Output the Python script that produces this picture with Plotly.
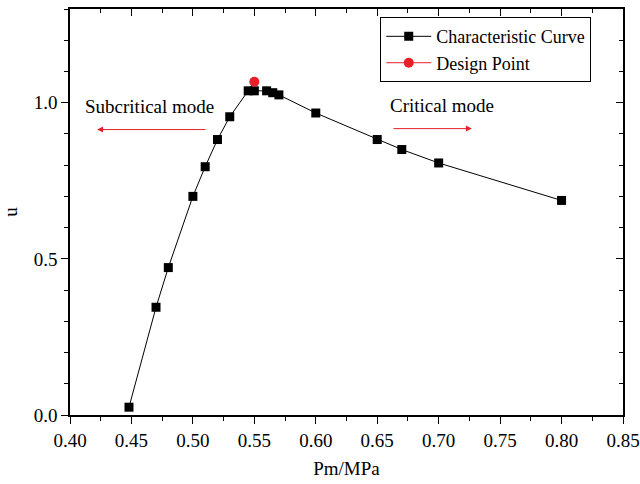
import plotly.graph_objects as go

pm = [0.448, 0.47, 0.48, 0.50, 0.51, 0.52, 0.53, 0.545, 0.55, 0.56, 0.565, 0.57, 0.60, 0.65, 0.67, 0.70, 0.80]
u = [0.025, 0.345, 0.472, 0.70, 0.795, 0.882, 0.955, 1.038, 1.038, 1.038, 1.032, 1.025, 0.967, 0.882, 0.85, 0.807, 0.687]
design_pm = [0.55]
design_u = [1.067]

xticks = [0.40, 0.45, 0.50, 0.55, 0.60, 0.65, 0.70, 0.75, 0.80, 0.85]
yticks = [0.0, 0.5, 1.0]

FONT = "Liberation Serif, Times New Roman, serif"

fig = go.Figure()
fig.add_trace(go.Scatter(x=pm, y=u, mode="lines+markers", name="Characteristic Curve",
                         line=dict(color="black", width=1),
                         marker=dict(symbol="square", size=9, color="black")))
fig.add_trace(go.Scatter(x=design_pm, y=design_u, mode="lines+markers", name="Design Point",
                         line=dict(color="#e8202a", width=1),
                         marker=dict(symbol="circle", size=10, color="#e8202a")))
# invisible trace for mirrored (inside tick) axes
fig.add_trace(go.Scatter(x=[xticks[0]], y=[yticks[0]], xaxis="x2", yaxis="y2", mode="markers",
                         marker=dict(opacity=0), showlegend=False, hoverinfo="skip"))

common = dict(showgrid=False, zeroline=False, showline=True, linecolor="black", linewidth=1.5,
              tickcolor="black", tickwidth=1.2, automargin=False)

fig.update_layout(
    width=640, height=484,
    margin=dict(l=70, r=17, t=9, b=69),
    paper_bgcolor="white", plot_bgcolor="white",
    font=dict(family=FONT, size=19, color="black"),
    xaxis=dict(range=[0.40, 0.85], tickvals=xticks, ticktext=[f"{v:.2f}" for v in xticks],
               ticks="outside", ticklen=7, tickfont=dict(family=FONT, size=19),
               minor=dict(dtick=0.025, tick0=0.4, ticks="outside", ticklen=4, tickcolor="black"),
               title=dict(text="Pm/MPa", standoff=12, font=dict(family=FONT, size=19)), **common),
    yaxis=dict(range=[0, 1.3], tickvals=yticks, ticktext=[f"{v:.1f}" for v in yticks],
               ticks="outside", ticklen=7, tickfont=dict(family=FONT, size=19),
               minor=dict(dtick=0.1, tick0=0, ticks="outside", ticklen=4, tickcolor="black"),
               title=dict(text="u", standoff=13, font=dict(family=FONT, size=19)), **common),
    xaxis2=dict(range=[0.40, 0.85], overlaying="x", side="top", anchor="y2",
                tickvals=xticks, showticklabels=False, ticks="inside", ticklen=7,
                minor=dict(dtick=0.025, tick0=0.4, ticks="inside", ticklen=4, tickcolor="black"),
                **common),
    yaxis2=dict(range=[0, 1.3], overlaying="y", side="right", anchor="x2",
                tickvals=yticks, showticklabels=False, ticks="inside", ticklen=7,
                minor=dict(dtick=0.1, tick0=0, ticks="inside", ticklen=4, tickcolor="black"),
                **common),
    legend=dict(x=0.561, y=0.98, xanchor="left", yanchor="top",
                bordercolor="black", borderwidth=1, bgcolor="white",
                font=dict(family=FONT, size=18), tracegroupgap=0, itemwidth=45),
    showlegend=True,
)

fig.add_annotation(x=0.422, y=0.914, ax=0.5115, ay=0.914, xref="x", yref="y", axref="x", ayref="y",
                   showarrow=True, arrowcolor="#e8202a", arrowwidth=1, arrowhead=2, arrowsize=1.2, text="")
fig.add_annotation(x=0.727, y=0.917, ax=0.662, ay=0.917, xref="x", yref="y", axref="x", ayref="y",
                   showarrow=True, arrowcolor="#e8202a", arrowwidth=1, arrowhead=2, arrowsize=1.2, text="")
fig.add_annotation(x=0.465, y=0.987, xref="x", yref="y", text="Subcritical mode", showarrow=False,
                   font=dict(family=FONT, size=19))
fig.add_annotation(x=0.7027, y=0.99, xref="x", yref="y", text="Critical mode", showarrow=False,
                   font=dict(family=FONT, size=19))

fig.write_html("out.html")
